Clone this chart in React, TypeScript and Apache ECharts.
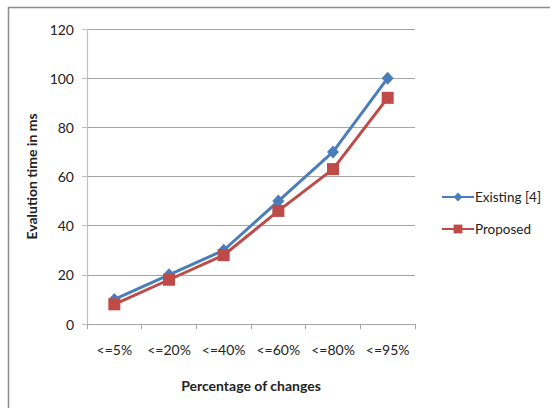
import React, { useEffect, useRef } from "react";
import * as echarts from "echarts";

const categories = ["<=5%", "<=20%", "<=40%", "<=60%", "<=80%", "<=95%"];
const existing = [10, 20, 30, 50, 70, 100];
const proposed = [8, 18, 28, 46, 63, 92];
const seriesNames = ["Existing [4]", "Proposed"];

export default function App() {
  const ref = useRef<HTMLDivElement>(null);
  useEffect(() => {
    const chart = echarts.init(ref.current!, null, { renderer: "svg" });
    const font = "Lato, 'Liberation Sans', sans-serif";
    chart.setOption({
      animation: false,
      backgroundColor: "#fff",
      textStyle: { fontFamily: font },
      graphic: [
        { type: "line", shape: { x1: 8, y1: 7.5, x2: 550, y2: 7.5 }, style: { stroke: "#8c8c8c", lineWidth: 1.5 } },
        { type: "line", shape: { x1: 8.5, y1: 7, x2: 8.5, y2: 408 }, style: { stroke: "#8c8c8c", lineWidth: 1.5 } },
      ],
      grid: { left: 87, top: 29, right: 135, bottom: 84, containLabel: false },
      legend: {
        orient: "vertical",
        left: 436,
        top: 185,
        itemGap: 18,
        itemWidth: 32,
        itemHeight: 11,
        textStyle: { fontFamily: font, fontSize: 13.5, color: "#222", padding: [0, 0, 0, -4] },
        data: seriesNames,
      },
      xAxis: {
        type: "category",
        data: categories,
        boundaryGap: true,
        name: "Percentage of changes",
        nameLocation: "middle",
        nameGap: 54,
        nameTextStyle: { fontFamily: font, fontSize: 14, fontWeight: "bold", color: "#222" },
        axisLine: { lineStyle: { color: "#a6a6a6", width: 1.2 } },
        axisTick: { show: true, length: 5, interval: 0, alignWithLabel: false, lineStyle: { color: "#a6a6a6" } },
        axisLabel: { fontFamily: font, fontSize: 14, color: "#222", margin: 18, interval: 0 },
        splitLine: { show: false },
      },
      yAxis: {
        type: "value",
        min: 0,
        max: 120,
        interval: 20,
        name: "Evalution time in ms",
        nameLocation: "middle",
        nameGap: 46,
        nameRotate: 90,
        nameTextStyle: { fontFamily: font, fontSize: 14, fontWeight: "bold", color: "#222" },
        axisLine: { show: true, lineStyle: { color: "#bfbfbf", width: 1.2 } },
        axisTick: { show: true, length: 5, lineStyle: { color: "#bfbfbf" } },
        axisLabel: { fontFamily: font, fontSize: 14, color: "#222", margin: 13 },
        splitLine: { show: true, lineStyle: { color: "#a6a6a6", width: 1 } },
      },
      series: [
        {
          name: seriesNames[0],
          type: "line",
          data: existing,
          symbol: "diamond",
          symbolSize: [12, 13],
          lineStyle: { color: "#4a7ebb", width: 3 },
          itemStyle: { color: "#4a7ebb" },
        },
        {
          name: seriesNames[1],
          type: "line",
          data: proposed,
          symbol: "rect",
          symbolSize: 12,
          lineStyle: { color: "#be4b48", width: 3 },
          itemStyle: { color: "#be4b48" },
        },
      ],
    });
    return () => chart.dispose();
  }, []);
  return (
    <div
      ref={ref}
      style={{ position: "absolute", left: 0, top: 0, width: 550, height: 408 }}
    />
  );
}
